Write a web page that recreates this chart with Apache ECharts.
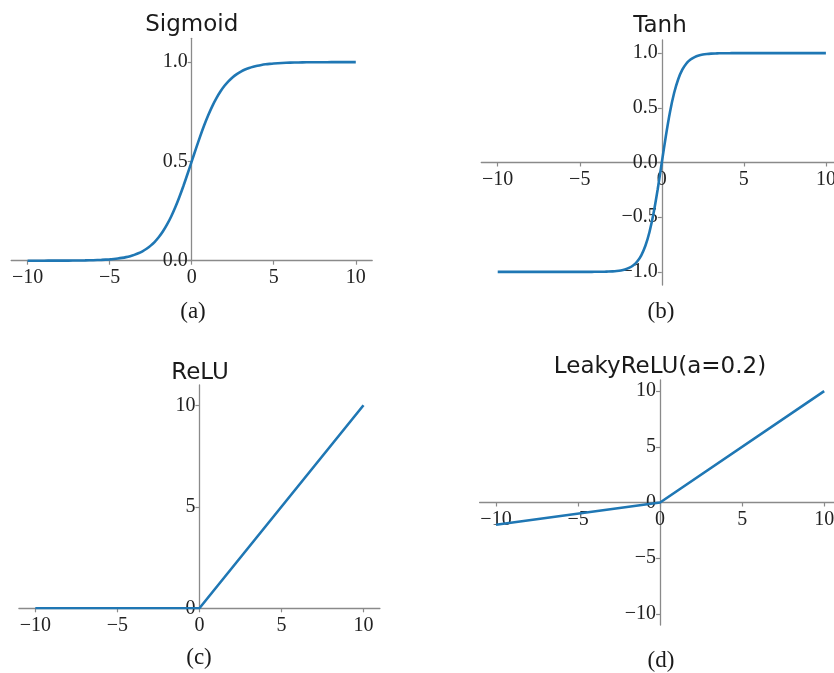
<!DOCTYPE html>
<html>
<head>
<meta charset="utf-8">
<script src="https://cdn.jsdelivr.net/npm/echarts@6/dist/echarts.min.js"></script>
<style>
  html, body { margin: 0; padding: 0; background: #ffffff; }
  #chart { width: 834px; height: 673px; }
</style>
</head>
<body>
<div id="chart"></div>
<script>
// Sample inputs shared by the smooth activation curves (denser near the bend)
const xSamples = [-10, -9.5, -9, -8.5, -8, -7.5, -7, -6.5, -6, -5.5,
  -5, -4.75, -4.5, -4.25, -4, -3.75, -3.5, -3.25, -3, -2.75, -2.5, -2.25, -2, -1.75, -1.5, -1.25, -1, -0.75, -0.5, -0.25,
  0,
  0.25, 0.5, 0.75, 1, 1.25, 1.5, 1.75, 2, 2.25, 2.5, 2.75, 3, 3.25, 3.5, 3.75, 4, 4.25, 4.5, 4.75, 5,
  5.5, 6, 6.5, 7, 7.5, 8, 8.5, 9, 9.5, 10];

const sigmoidValues = [0.0000, 0.0001, 0.0001, 0.0002, 0.0003, 0.0006, 0.0009, 0.0015, 0.0025, 0.0041,
  0.0067, 0.0086, 0.0110, 0.0141, 0.0180, 0.0230, 0.0293, 0.0373, 0.0474, 0.0601, 0.0759, 0.0953, 0.1192, 0.1480,
  0.1824, 0.2227, 0.2689, 0.3208, 0.3775, 0.4378,
  0.5000,
  0.5622, 0.6225, 0.6792, 0.7311, 0.7773, 0.8176, 0.8520, 0.8808, 0.9047, 0.9241, 0.9399, 0.9526, 0.9627, 0.9707,
  0.9770, 0.9820, 0.9859, 0.9890, 0.9914, 0.9933,
  0.9959, 0.9975, 0.9985, 0.9991, 0.9994, 0.9997, 0.9998, 0.9999, 0.9999, 1.0000];

const tanhValues = [-1.0000, -1.0000, -1.0000, -1.0000, -1.0000, -1.0000, -1.0000, -1.0000, -1.0000, -1.0000,
  -0.9999, -0.9999, -0.9998, -0.9996, -0.9993, -0.9989, -0.9982, -0.9970, -0.9951, -0.9918, -0.9866, -0.9780,
  -0.9640, -0.9414, -0.9051, -0.8483, -0.7616, -0.6351, -0.4621, -0.2449,
  0.0000,
  0.2449, 0.4621, 0.6351, 0.7616, 0.8483, 0.9051, 0.9414, 0.9640, 0.9780, 0.9866, 0.9918, 0.9951, 0.9970, 0.9982,
  0.9989, 0.9993, 0.9996, 0.9998, 0.9999, 0.9999,
  1.0000, 1.0000, 1.0000, 1.0000, 1.0000, 1.0000, 1.0000, 1.0000, 1.0000, 1.0000];

// Piecewise-linear activations: the corners are enough
const reluX = [-10, 0, 10];
const reluValues = [0, 0, 10];
const leakyX = [-10, 0, 10];
const leakyValues = [-2, 0, 10];

// Tick labels
const xTicks = [-10, -5, 0, 5, 10];
const sigmoidTicks = [0, 0.5, 1.0];
const tanhTicks = [-1.0, -0.5, 0, 0.5, 1.0];
const reluTicks = [0, 5, 10];
const leakyTicks = [-10, -5, 0, 5, 10];

const titles = ['Sigmoid', 'Tanh', 'ReLU', 'LeakyReLU(a=0.2)'];
const captions = ['(a)', '(b)', '(c)', '(d)'];

const pairs = (xs, ys) => xs.map((x, i) => [x, ys[i]]);
const minusSign = s => s.replace('-', '\u2212');

const spineColor = '#8a8a8a';
const lineColor = '#1f77b4';
const serif = '"Liberation Serif", "Times New Roman", serif';
const XMIN = -11, XMAX = 11;

// Panel geometry (pixels)
const panels = [
  { left: 11.2, top: 38.3, width: 361, height: 222.4, ymin: 0, ymax: 1.12, ticks: sigmoidTicks, fmt: v => v.toFixed(1),
    data: pairs(xSamples, sigmoidValues), smooth: 0.25, titleX: 191.7, titleY: 25, capX: 193, capY: 311.5 },
  { left: 481.3, top: 40, width: 361, height: 245, ymin: -1.12, ymax: 1.12, ticks: tanhTicks, fmt: v => v.toFixed(1),
    data: pairs(xSamples, tanhValues), smooth: 0.25, titleX: 660, titleY: 26, capX: 661, capY: 311.5 },
  { left: 18.9, top: 385, width: 361, height: 223.3, ymin: 0, ymax: 11, ticks: reluTicks, fmt: v => String(v),
    data: pairs(reluX, reluValues), smooth: false, titleX: 200, titleY: 373, capX: 199, capY: 658 },
  { left: 479.6, top: 380, width: 361, height: 245, ymin: -11, ymax: 11, ticks: leakyTicks, fmt: v => String(v),
    data: pairs(leakyX, leakyValues), smooth: false, titleX: 660, titleY: 367, capX: 661, capY: 661 }
];

// Spines cross at the origin: shift each axis from the grid edge to the zero line
const xAxisShift = p => -((0 - p.ymin) / (p.ymax - p.ymin)) * p.height;
const yAxisShift = p => -((0 - XMIN) / (XMAX - XMIN)) * p.width;

const axisLineStyle = { show: true, onZero: false, lineStyle: { color: spineColor, width: 1.3 } };
const tickStyle = { show: true, length: 4, lineStyle: { color: spineColor, width: 1.2 } };
const labelFont = { fontFamily: serif, fontSize: 20, color: '#222222' };

const option = {
  animation: false,
  backgroundColor: '#ffffff',
  grid: panels.map(p => ({
    left: p.left, top: p.top, width: p.width, height: p.height,
    containLabel: false, outerBoundsMode: 'none', show: false
  })),
  xAxis: panels.map((p, i) => ({
    type: 'value', gridIndex: i, min: XMIN, max: XMAX,
    position: 'bottom', offset: xAxisShift(p),
    axisLine: axisLineStyle,
    axisTick: Object.assign({ customValues: xTicks }, tickStyle),
    axisLabel: Object.assign({ customValues: xTicks, margin: 7, formatter: v => minusSign(String(v)) }, labelFont),
    splitLine: { show: false }
  })),
  yAxis: panels.map((p, i) => ({
    type: 'value', gridIndex: i, min: p.ymin, max: p.ymax,
    position: 'left', offset: yAxisShift(p),
    axisLine: axisLineStyle,
    axisTick: Object.assign({ customValues: p.ticks }, tickStyle),
    axisLabel: Object.assign({ customValues: p.ticks, margin: 4, formatter: v => minusSign(p.fmt(v)) }, labelFont),
    splitLine: { show: false }
  })),
  series: panels.map((p, i) => ({
    type: 'line', xAxisIndex: i, yAxisIndex: i,
    data: p.data, showSymbol: false, symbol: 'none',
    smooth: p.smooth,
    lineStyle: { color: lineColor, width: 2.6 },
    z: 3
  })),
  graphic: panels.flatMap((p, i) => [
    { type: 'text', x: p.titleX, y: p.titleY, z: 10,
      style: { text: titles[i], fill: '#1a1a1a', font: '23px "DejaVu Sans", sans-serif',
               textAlign: 'center', textVerticalAlign: 'middle' } },
    { type: 'text', x: p.capX, y: p.capY, z: 10,
      style: { text: captions[i], fill: '#1a1a1a', font: '23px ' + serif,
               textAlign: 'center', textVerticalAlign: 'middle' } }
  ])
};

const chart = echarts.init(document.getElementById('chart'), null, { renderer: 'canvas' });
chart.setOption(option);
</script>
</body>
</html>
